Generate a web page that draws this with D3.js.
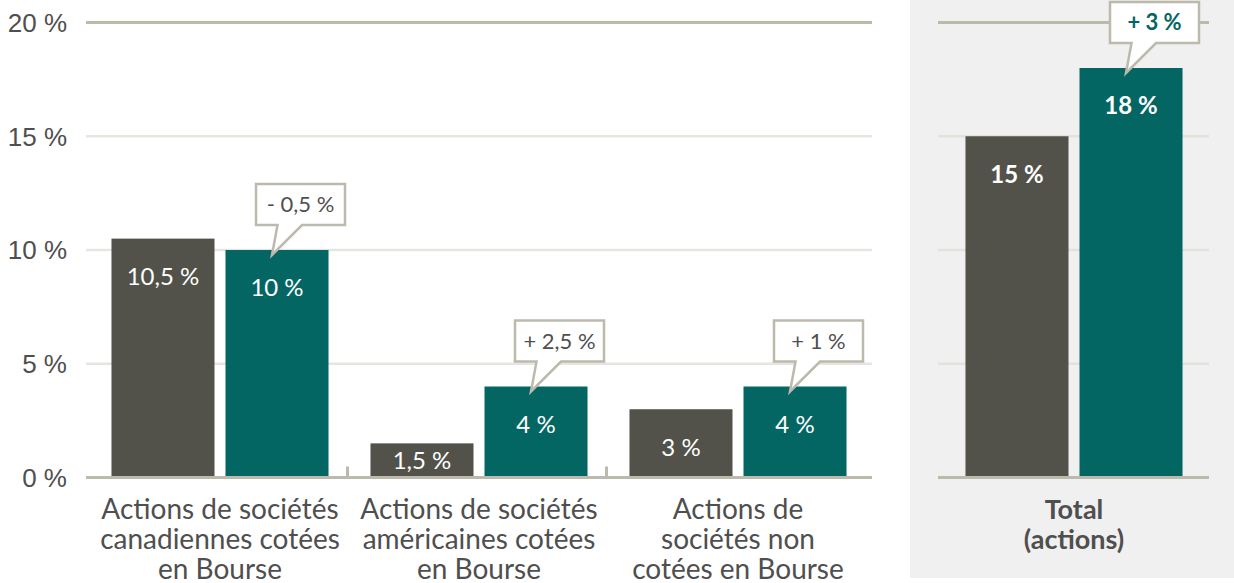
<!DOCTYPE html>
<html>
<head>
<meta charset="utf-8">
<script src="https://cdn.jsdelivr.net/npm/d3@7"></script>
<style>
  html, body { margin: 0; padding: 0; background: #ffffff; }
  svg { display: block; font-family: "Source Sans Pro", "Lato", sans-serif; }
</style>
</head>
<body>
<svg id="chart" width="1234" height="583"></svg>
<script>
// ---- Data ----
const categories = [
  "Actions de sociétés canadiennes cotées en Bourse",
  "Actions de sociétés américaines cotées en Bourse",
  "Actions de sociétés non cotées en Bourse"
];
const categoryLines = [
  ["Actions de sociétés", "canadiennes cotées", "en Bourse"],
  ["Actions de sociétés", "américaines cotées", "en Bourse"],
  ["Actions de", "sociétés non", "cotées en Bourse"]
];
const valuesBefore = [10.5, 1.5, 3];
const valuesAfter = [10, 4, 4];
const changeLabels = ["- 0,5 %", "+ 2,5 %", "+ 1 %"];

const totalCategory = ["Total (actions)"];
const totalLines = ["Total", "(actions)"];
const totalBefore = [15];
const totalAfter = [18];
const totalChange = ["+ 3 %"];

const yTicks = [0, 5, 10, 15, 20];
const series = ["before", "after"];

// ---- Styles ----
const DARK = "#52524a";
const TEAL = "#036663";
const GRID_LIGHT = "#e6e5e0";
const GRID_DARK = "#bcb9ad";
const TEXT = "#4f4f4f";
const PANEL = "#f0f0f0";

const fmt = v => String(v).replace(".", ",") + " %";

const svg = d3.select("#chart");

// gray panel for total
svg.append("rect").attr("x", 910).attr("y", 0).attr("width", 324).attr("height", 578).attr("fill", PANEL);

const y = d3.scaleLinear().domain([0, 20]).range([477.5, 22.5]);

const xMain = d3.scaleBand().domain(categories).range([90.5, 867.5]);
const xTot = d3.scaleBand().domain(totalCategory).range([944.5, 1203.5]);
const xSub = d3.scaleBand().domain(series).range([0, xMain.bandwidth()]).paddingInner(0.0965).paddingOuter(0.184);

// gridlines
function grid(x1, x2, lightColor) {
  svg.append("g").selectAll("line").data(yTicks.filter(t => t > 0)).join("line")
    .attr("x1", x1).attr("x2", x2)
    .attr("y1", d => y(d)).attr("y2", d => y(d))
    .attr("stroke", d => d === 20 ? GRID_DARK : lightColor)
    .attr("stroke-width", d => d === 20 ? 3 : 2.5);
}
grid(86, 872, GRID_LIGHT);
grid(938, 1209, "#e2e1dc");

// y axis labels
const yAxis = d3.axisLeft(y).tickValues(yTicks).tickFormat(d => d + " %").tickSize(0).tickPadding(0);
const yg = svg.append("g").attr("transform", "translate(67,0)").call(yAxis);
yg.select(".domain").remove();
yg.selectAll("text").attr("fill", TEXT).style("font-size", "26px").style("font-family", null).attr("dy", "0.34em");

// bars
function drawBars(xScale, cats, before, after, bold) {
  const data = [];
  cats.forEach((c, i) => {
    data.push({ c, s: "before", v: before[i] });
    data.push({ c, s: "after", v: after[i] });
  });
  const g = svg.append("g");
  g.selectAll("rect").data(data).join("rect")
    .attr("x", d => xScale(d.c) + xSub(d.s))
    .attr("width", xSub.bandwidth())
    .attr("y", d => y(d.v))
    .attr("height", d => y(0) - y(d.v))
    .attr("fill", d => d.s === "before" ? DARK : TEAL);
  g.selectAll("text").data(data).join("text")
    .attr("x", d => xScale(d.c) + xSub(d.s) + xSub.bandwidth() / 2)
    .attr("y", d => {
      const top = y(d.v), h = y(0) - y(d.v);
      return h < 60 ? top + h / 2 : top + 38;
    })
    .attr("dy", "0.35em")
    .attr("text-anchor", "middle")
    .attr("fill", "#ffffff")
    .style("font-size", "24px")
    .style("font-weight", bold ? 700 : 400)
    .text(d => fmt(d.v));
}
drawBars(xMain, categories, valuesBefore, valuesAfter, false);
drawBars(xTot, totalCategory, totalBefore, totalAfter, true);

// axis baselines
svg.append("line").attr("x1", 86).attr("x2", 872).attr("y1", y(0)).attr("y2", y(0)).attr("stroke", GRID_DARK).attr("stroke-width", 3);
svg.append("line").attr("x1", 938).attr("x2", 1209).attr("y1", y(0)).attr("y2", y(0)).attr("stroke", GRID_DARK).attr("stroke-width", 3);
// separators between groups
svg.append("g").selectAll("line").data(categories.slice(1)).join("line")
  .attr("x1", d => xMain(d) - 2).attr("x2", d => xMain(d) - 2)
  .attr("y1", y(0) - 11).attr("y2", y(0))
  .attr("stroke", GRID_DARK).attr("stroke-width", 3);

// callouts
function callout(cx, barTop, label, color, bold) {
  const bottom = barTop - 25, top = bottom - 41;
  const L = cx - 21, R = cx + 68;
  const path = `M${L},${top} H${R} V${bottom} H${cx + 25} L${cx - 5},${barTop + 5} L${cx + 0.5},${bottom} H${L} Z`;
  svg.append("path").attr("d", path).attr("fill", "#ffffff").attr("stroke", GRID_DARK).attr("stroke-width", 2.5).attr("stroke-linejoin", "miter");
  svg.append("text").attr("x", (L + R) / 2).attr("y", (top + bottom) / 2).attr("dy", "0.35em")
    .attr("text-anchor", "middle").attr("fill", color)
    .style("font-size", "22px").style("font-weight", bold ? 700 : 400)
    .text(label);
}
categories.forEach((c, i) => {
  const cx = xMain(c) + xSub("after") + xSub.bandwidth() / 2;
  callout(cx, y(valuesAfter[i]), changeLabels[i], TEXT, false);
});
totalCategory.forEach((c, i) => {
  const cx = xTot(c) + xSub("after") + xSub.bandwidth() / 2;
  callout(cx, y(totalAfter[i]), totalChange[i], TEAL, true);
});

// category labels
categories.forEach((c, i) => {
  const t = svg.append("text").attr("text-anchor", "middle").attr("fill", TEXT).style("font-size", "28px");
  categoryLines[i].forEach((ln, j) => {
    t.append("tspan").attr("x", xMain(c) + xMain.bandwidth() / 2).attr("y", 519 + j * 30).text(ln);
  });
});
totalCategory.forEach((c, i) => {
  const t = svg.append("text").attr("text-anchor", "middle").attr("fill", TEXT).style("font-size", "27px").style("font-weight", 700);
  totalLines.forEach((ln, j) => {
    t.append("tspan").attr("x", xTot(c) + xTot.bandwidth() / 2).attr("y", 519 + j * 30).text(ln);
  });
});
</script>
</body>
</html>
